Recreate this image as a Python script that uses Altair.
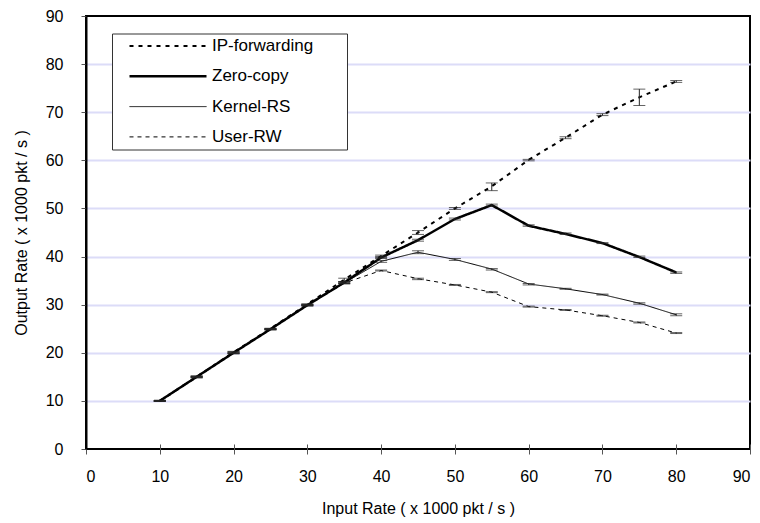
import altair as alt
import pandas as pd

# ---- data ----
x_vals = [10, 15, 20, 25, 30, 35, 40, 45, 50, 55, 60, 65, 70, 75, 80]
series_names = ["IP-forwarding", "Zero-copy", "Kernel-RS", "User-RW"]

ip_fwd = [10.0, 15.0, 20.1, 25.0, 30.1, 35.2, 40.1, 45.0, 50.0, 54.6, 60.1, 64.7, 69.5, 73.1, 76.4]
ip_lo = [9.9, 14.8, 19.8, 24.8, 29.9, 34.8, 39.8, 44.6, 49.8, 53.7, 59.9, 64.5, 69.3, 71.4, 76.2]
ip_hi = [10.1, 15.1, 20.3, 25.1, 30.2, 35.5, 40.3, 45.4, 50.2, 55.3, 60.2, 64.9, 69.7, 74.8, 76.6]

zero_copy = [10.0, 15.0, 20.0, 24.9, 29.9, 34.6, 39.8, 43.4, 47.8, 50.7, 46.4, 44.7, 42.8, 39.9, 36.7]
zero_lo = [9.9, 14.8, 19.8, 24.8, 29.7, 34.4, 39.6, 43.2, 47.6, 50.5, 46.3, 44.6, 42.7, 39.8, 36.5]
zero_hi = [10.1, 15.2, 20.2, 25.0, 30.0, 34.8, 40.0, 43.6, 48.0, 50.9, 46.6, 44.9, 42.9, 40.1, 36.8]

kernel_rs = [10.0, 15.0, 20.0, 24.9, 29.9, 34.5, 39.0, 40.9, 39.4, 37.4, 34.3, 33.3, 32.1, 30.3, 27.9]
kernel_lo = [9.9, 14.9, 19.9, 24.8, 29.8, 34.3, 38.8, 40.6, 39.2, 37.2, 34.1, 33.2, 32.0, 30.1, 27.7]
kernel_hi = [10.1, 15.1, 20.1, 25.0, 30.0, 34.7, 39.2, 41.2, 39.6, 37.5, 34.4, 33.4, 32.2, 30.4, 28.1]

user_rw = [10.0, 15.0, 20.0, 24.9, 29.9, 34.5, 37.1, 35.4, 34.1, 32.6, 29.6, 28.9, 27.7, 26.3, 24.1]
user_lo = [9.9, 14.9, 19.9, 24.8, 29.8, 34.4, 37.0, 35.2, 34.0, 32.5, 29.5, 28.8, 27.6, 26.2, 24.0]
user_hi = [10.1, 15.1, 20.1, 25.0, 30.0, 34.6, 37.2, 35.5, 34.2, 32.7, 29.7, 29.0, 27.8, 26.4, 24.2]

axis_ticks = [0, 10, 20, 30, 40, 50, 60, 70, 80, 90]

rows = []
for name, ys, los, his in [
    ("IP-forwarding", ip_fwd, ip_lo, ip_hi),
    ("Zero-copy", zero_copy, zero_lo, zero_hi),
    ("Kernel-RS", kernel_rs, kernel_lo, kernel_hi),
    ("User-RW", user_rw, user_lo, user_hi),
]:
    for xv, yv, lo, hi in zip(x_vals, ys, los, his):
        rows.append({"series": name, "x": xv, "y": yv, "lo": lo, "hi": hi})
df = pd.DataFrame(rows)

FONT = "Liberation Sans"

x_scale = alt.Scale(domain=[0, 90], nice=False, zero=False)
y_scale = alt.Scale(domain=[0, 90], nice=False)

x_axis = alt.Axis(
    values=axis_ticks, title="Input Rate ( x 1000 pkt / s )", grid=False,
    domain=False, offset=-5, tickSize=10, tickColor="#555555", tickWidth=1,
    labelPadding=14, labelFont=FONT, labelFontSize=16, labelColor="black",
    titleFont=FONT, titleFontSize=16, titleFontWeight="normal", titleColor="black",
    titlePadding=16,
)
y_axis = alt.Axis(
    values=axis_ticks, title="Output Rate ( x 1000 pkt / s )", grid=True,
    gridColor="#dcdcf8", gridWidth=2,
    gridOpacity={"condition": {"test": "datum.value == 0 || datum.value == 90", "value": 0}, "value": 1},
    domain=True, domainColor="black", domainWidth=2, tickSize=5,
    tickColor="#555555", tickWidth=1, labelPadding=18, labelFont=FONT,
    labelFontSize=16, labelColor="black", titleFont=FONT, titleFontSize=16,
    titleFontWeight="normal", titleColor="black", titlePadding=16,
)

leg = alt.Legend(
    title="MMM", titleOrient="right", titleOpacity=0, titleFontSize=12,
    titlePadding=0, orient="none", legendX=26, legendY=17.5,
    symbolType="M0,0H15.4", symbolSize=100, symbolStrokeColor="black",
    fillColor="white", strokeColor="#333333", padding=4, symbolOffset=5,
    labelOffset=74, rowPadding=12.3, labelFont=FONT, labelFontSize=17,
    labelColor="black",
)

base = alt.Chart(df)

lines = base.mark_line(color="black", strokeCap="butt").encode(
    x=alt.X("x:Q", scale=x_scale, axis=x_axis),
    y=alt.Y("y:Q", scale=y_scale, axis=y_axis),
    strokeDash=alt.StrokeDash(
        "series:N",
        scale=alt.Scale(domain=series_names, range=[[4, 5], [1, 0], [1, 0], [4, 4]]),
        legend=leg,
    ),
    strokeWidth=alt.StrokeWidth(
        "series:N",
        scale=alt.Scale(type="ordinal", domain=series_names, range=[2, 2.5, 1, 1]),
        legend=leg,
    ),
)

err = base.mark_rule(color="#222222", strokeWidth=1).encode(
    x="x:Q", y="lo:Q", y2="hi:Q"
)
cap_lo = base.mark_tick(orient="horizontal", color="#222222", thickness=1, size=12).encode(
    x="x:Q", y="lo:Q"
)
cap_hi = base.mark_tick(orient="horizontal", color="#222222", thickness=1, size=12).encode(
    x="x:Q", y="hi:Q"
)

chart = alt.layer(lines, err, cap_lo, cap_hi).properties(
    width=664, height=433,
    autosize=alt.AutoSizeParams(type="none"),
    padding={"left": 78, "top": 8, "right": 2, "bottom": 72},
    background="white",
).configure_view(stroke="black", strokeWidth=2)

chart.save("out.html", embed_options={"renderer": "svg", "actions": False})
